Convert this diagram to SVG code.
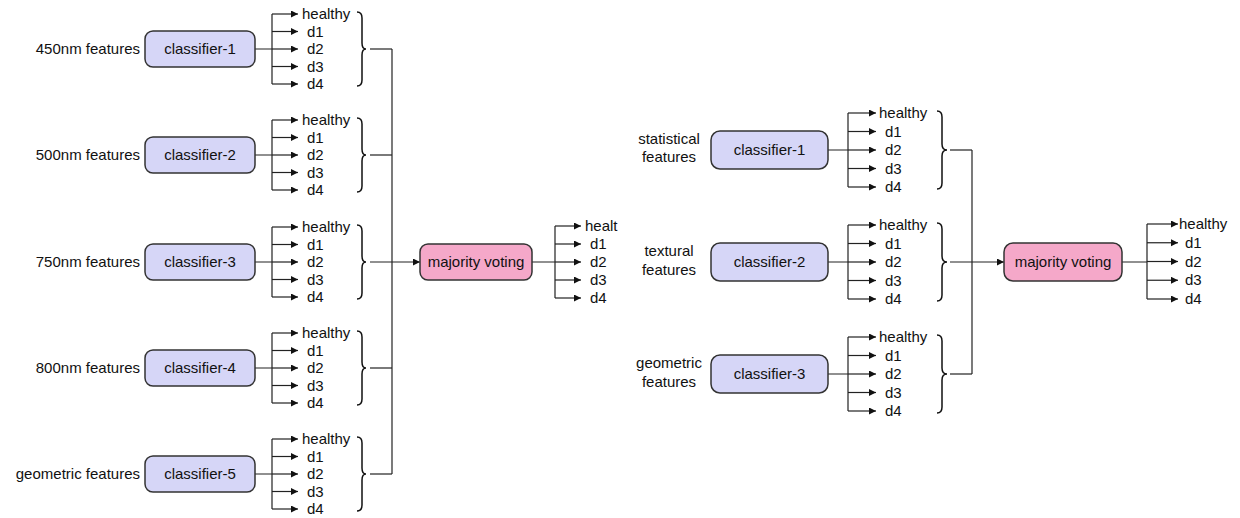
<svg xmlns="http://www.w3.org/2000/svg" width="1240" height="518" viewBox="0 0 1240 518">
<defs>
<marker id="ah" markerUnits="userSpaceOnUse" markerWidth="8" markerHeight="8" refX="7" refY="3.5" orient="auto">
<path d="M0,0 L7,3.5 L0,7 z" fill="#111"/>
</marker>
<style>
.t{font-family:"Liberation Sans",Arial,sans-serif;font-size:15px;fill:#111}
.m{text-anchor:middle}
.e{text-anchor:end}
.cls{fill:#d6d6f7;stroke:#333;stroke-width:1.5}
.mv{fill:#f5a8c9;stroke:#333;stroke-width:1.5}
.ln{fill:none;stroke:#222;stroke-width:1.2}
.ar{fill:none;stroke:#222;stroke-width:1.2;marker-end:url(#ah)}
.br{fill:none;stroke:#111;stroke-width:1.5}
</style>
</defs>
<rect width="1240" height="518" fill="#fff"/>

<g id="connectors">
<!-- left classifier 1 c=49 -->
<path class="ln" d="M255,49 H272 M272,14 V84"/>
<path class="ar" d="M272,14 H298"/><path class="ar" d="M272,31.5 H298"/><path class="ar" d="M272,49 H298"/><path class="ar" d="M272,66.5 H298"/><path class="ar" d="M272,84 H298"/>
<path class="br" d="M357,12 q5,0 5,6 v25 q0,6 4,6 q-4,0 -4,6 v25 q0,6 -5,6"/>
<path class="ln" d="M370,49 H392"/>
<!-- left classifier 2 c=155 -->
<path class="ln" d="M255,155 H272 M272,120 V190"/>
<path class="ar" d="M272,120 H298"/><path class="ar" d="M272,137.5 H298"/><path class="ar" d="M272,155 H298"/><path class="ar" d="M272,172.5 H298"/><path class="ar" d="M272,190 H298"/>
<path class="br" d="M357,118 q5,0 5,6 v25 q0,6 4,6 q-4,0 -4,6 v25 q0,6 -5,6"/>
<path class="ln" d="M370,155 H392"/>
<!-- left classifier 3 c=262 -->
<path class="ln" d="M255,262 H272 M272,227 V297"/>
<path class="ar" d="M272,227 H298"/><path class="ar" d="M272,244.5 H298"/><path class="ar" d="M272,262 H298"/><path class="ar" d="M272,279.5 H298"/><path class="ar" d="M272,297 H298"/>
<path class="br" d="M357,225 q5,0 5,6 v25 q0,6 4,6 q-4,0 -4,6 v25 q0,6 -5,6"/>
<!-- left classifier 4 c=368 -->
<path class="ln" d="M255,368 H272 M272,333 V403"/>
<path class="ar" d="M272,333 H298"/><path class="ar" d="M272,350.5 H298"/><path class="ar" d="M272,368 H298"/><path class="ar" d="M272,385.5 H298"/><path class="ar" d="M272,403 H298"/>
<path class="br" d="M357,331 q5,0 5,6 v25 q0,6 4,6 q-4,0 -4,6 v25 q0,6 -5,6"/>
<path class="ln" d="M370,368 H392"/>
<!-- left classifier 5 c=474 -->
<path class="ln" d="M255,474 H272 M272,439 V509"/>
<path class="ar" d="M272,439 H298"/><path class="ar" d="M272,456.5 H298"/><path class="ar" d="M272,474 H298"/><path class="ar" d="M272,491.5 H298"/><path class="ar" d="M272,509 H298"/>
<path class="br" d="M357,437 q5,0 5,6 v25 q0,6 4,6 q-4,0 -4,6 v25 q0,6 -5,6"/>
<path class="ln" d="M370,474 H392"/>
<!-- left collector -->
<path class="ln" d="M392,49 V474"/>
<path class="ar" d="M370,262 H420"/>
<!-- left majority output c=262 -->
<path class="ln" d="M532,262 H555 M555,226 V298"/>
<path class="ar" d="M555,226 H581"/><path class="ar" d="M555,244 H581"/><path class="ar" d="M555,262 H581"/><path class="ar" d="M555,280 H581"/><path class="ar" d="M555,298 H581"/>

<!-- right classifier 1 c=150 -->
<path class="ln" d="M828,150 H848 M848,113 V187"/>
<path class="ar" d="M848,113 H876"/><path class="ar" d="M848,131.5 H876"/><path class="ar" d="M848,150 H876"/><path class="ar" d="M848,168.5 H876"/><path class="ar" d="M848,187 H876"/>
<path class="br" d="M937,111 q5,0 5,6 v27 q0,6 5,6 q-5,0 -5,6 v27 q0,6 -5,6"/>
<path class="ln" d="M950,150 H972"/>
<!-- right classifier 2 c=262 -->
<path class="ln" d="M828,262 H848 M848,225 V299"/>
<path class="ar" d="M848,225 H876"/><path class="ar" d="M848,243.5 H876"/><path class="ar" d="M848,262 H876"/><path class="ar" d="M848,280.5 H876"/><path class="ar" d="M848,299 H876"/>
<path class="br" d="M937,223 q5,0 5,6 v27 q0,6 5,6 q-5,0 -5,6 v27 q0,6 -5,6"/>
<!-- right classifier 3 c=374 -->
<path class="ln" d="M828,374 H848 M848,337 V411"/>
<path class="ar" d="M848,337 H876"/><path class="ar" d="M848,355.5 H876"/><path class="ar" d="M848,374 H876"/><path class="ar" d="M848,392.5 H876"/><path class="ar" d="M848,411 H876"/>
<path class="br" d="M937,335 q5,0 5,6 v27 q0,6 5,6 q-5,0 -5,6 v27 q0,6 -5,6"/>
<path class="ln" d="M950,374 H972"/>
<!-- right collector -->
<path class="ln" d="M972,150 V374"/>
<path class="ar" d="M950,262 H1004"/>
<!-- right majority output -->
<path class="ln" d="M1122,262 H1147 M1147,224 V299"/>
<path class="ar" d="M1147,224 H1178"/><path class="ar" d="M1147,242.75 H1178"/><path class="ar" d="M1147,261.5 H1178"/><path class="ar" d="M1147,280.25 H1178"/><path class="ar" d="M1147,299 H1178"/>
</g>

<!-- left side nodes -->
<g id="L-in1"><text class="t e" x="140" y="54">450nm features</text></g>
<g id="L-c1"><rect class="cls" x="145" y="31" width="110" height="36" rx="8"/><text class="t m" x="200" y="54">classifier-1</text></g>
<g id="L-o1"><text class="t" x="302" y="19">healthy</text><text class="t" x="307" y="36.5">d1</text><text class="t" x="307" y="54">d2</text><text class="t" x="307" y="71.5">d3</text><text class="t" x="307" y="89">d4</text></g>

<g id="L-in2"><text class="t e" x="140" y="160">500nm features</text></g>
<g id="L-c2"><rect class="cls" x="145" y="137" width="110" height="36" rx="8"/><text class="t m" x="200" y="160">classifier-2</text></g>
<g id="L-o2"><text class="t" x="302" y="125">healthy</text><text class="t" x="307" y="142.5">d1</text><text class="t" x="307" y="160">d2</text><text class="t" x="307" y="177.5">d3</text><text class="t" x="307" y="195">d4</text></g>

<g id="L-in3"><text class="t e" x="140" y="267">750nm features</text></g>
<g id="L-c3"><rect class="cls" x="145" y="244" width="110" height="36" rx="8"/><text class="t m" x="200" y="267">classifier-3</text></g>
<g id="L-o3"><text class="t" x="302" y="232">healthy</text><text class="t" x="307" y="249.5">d1</text><text class="t" x="307" y="267">d2</text><text class="t" x="307" y="284.5">d3</text><text class="t" x="307" y="302">d4</text></g>

<g id="L-in4"><text class="t e" x="140" y="373">800nm features</text></g>
<g id="L-c4"><rect class="cls" x="145" y="350" width="110" height="36" rx="8"/><text class="t m" x="200" y="373">classifier-4</text></g>
<g id="L-o4"><text class="t" x="302" y="338">healthy</text><text class="t" x="307" y="355.5">d1</text><text class="t" x="307" y="373">d2</text><text class="t" x="307" y="390.5">d3</text><text class="t" x="307" y="408">d4</text></g>

<g id="L-in5"><text class="t e" x="140" y="479">geometric features</text></g>
<g id="L-c5"><rect class="cls" x="145" y="456" width="110" height="36" rx="8"/><text class="t m" x="200" y="479">classifier-5</text></g>
<g id="L-o5"><text class="t" x="302" y="444">healthy</text><text class="t" x="307" y="461.5">d1</text><text class="t" x="307" y="479">d2</text><text class="t" x="307" y="496.5">d3</text><text class="t" x="307" y="514">d4</text></g>

<g id="L-mv"><rect class="mv" x="420" y="244" width="112" height="36" rx="8"/><text class="t m" x="476" y="267">majority voting</text></g>
<g id="L-out"><text class="t" x="585" y="231">healt</text><text class="t" x="590" y="249">d1</text><text class="t" x="590" y="267">d2</text><text class="t" x="590" y="285">d3</text><text class="t" x="590" y="303">d4</text></g>

<!-- right side nodes -->
<g id="R-in1"><text class="t m" x="669" y="144">statistical</text><text class="t m" x="669" y="162">features</text></g>
<g id="R-c1"><rect class="cls" x="711" y="131" width="117" height="38" rx="9"/><text class="t m" x="769.5" y="155">classifier-1</text></g>
<g id="R-o1"><text class="t" x="879" y="118">healthy</text><text class="t" x="885" y="136.5">d1</text><text class="t" x="885" y="155">d2</text><text class="t" x="885" y="173.5">d3</text><text class="t" x="885" y="192">d4</text></g>

<g id="R-in2"><text class="t m" x="669" y="256">textural</text><text class="t m" x="669" y="275">features</text></g>
<g id="R-c2"><rect class="cls" x="711" y="243" width="117" height="38" rx="9"/><text class="t m" x="769.5" y="267">classifier-2</text></g>
<g id="R-o2"><text class="t" x="879" y="230">healthy</text><text class="t" x="885" y="248.5">d1</text><text class="t" x="885" y="267">d2</text><text class="t" x="885" y="285.5">d3</text><text class="t" x="885" y="304">d4</text></g>

<g id="R-in3"><text class="t m" x="669" y="368">geometric</text><text class="t m" x="669" y="387">features</text></g>
<g id="R-c3"><rect class="cls" x="711" y="355" width="117" height="38" rx="9"/><text class="t m" x="769.5" y="379">classifier-3</text></g>
<g id="R-o3"><text class="t" x="879" y="342">healthy</text><text class="t" x="885" y="360.5">d1</text><text class="t" x="885" y="379">d2</text><text class="t" x="885" y="397.5">d3</text><text class="t" x="885" y="416">d4</text></g>

<g id="R-mv"><rect class="mv" x="1004" y="243" width="118" height="38" rx="9"/><text class="t m" x="1063" y="267">majority voting</text></g>
<g id="R-out"><text class="t" x="1179" y="229">healthy</text><text class="t" x="1185" y="247.75">d1</text><text class="t" x="1185" y="266.5">d2</text><text class="t" x="1185" y="285.25">d3</text><text class="t" x="1185" y="304">d4</text></g>
</svg>
